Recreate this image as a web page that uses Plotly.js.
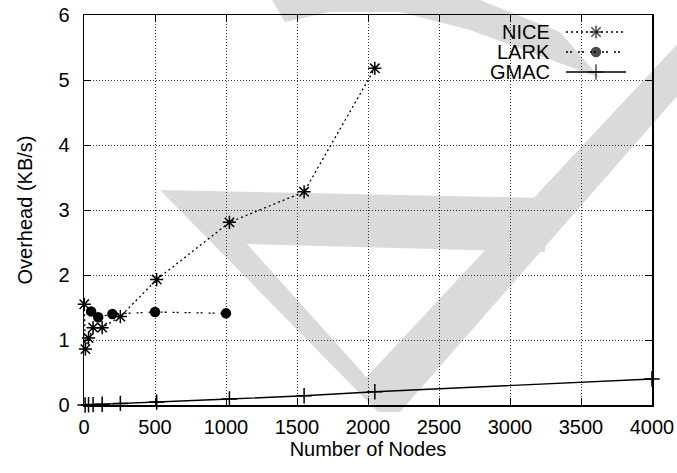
<!DOCTYPE html>
<html>
<head>
<meta charset="utf-8">
<script src="https://cdn.plot.ly/plotly-3.0.1.min.js"></script>
<style>html,body{margin:0;padding:0;background:#fff;}#chart{width:677px;height:473px;}</style>
</head>
<body>
<div id="chart"></div>
<script>
// ---- data ----
const seriesNames = ["NICE", "LARK", "GMAC"];
const niceX = [2, 10, 32, 64, 128, 256, 512, 1024, 1550, 2048];
const niceY = [1.55, 0.86, 1.03, 1.19, 1.19, 1.36, 1.93, 2.81, 3.28, 5.18];
const larkX = [50, 100, 200, 500, 1000];
const larkY = [1.44, 1.35, 1.40, 1.43, 1.41];
const gmacX = [8, 32, 64, 128, 256, 512, 1024, 1550, 2048, 4000];
const gmacY = [0.001, 0.003, 0.006, 0.012, 0.025, 0.045, 0.092, 0.143, 0.205, 0.40];
const xTicks = [0, 500, 1000, 1500, 2000, 2500, 3000, 3500, 4000];
const yTicks = [0, 1, 2, 3, 4, 5, 6];

// ---- layout geometry (pixels) ----
const W = 677, H = 473, ML = 84, MR = 25, MT = 15, MB = 68;
const PW = W - ML - MR, PH = H - MT - MB;
const fx = px => (px - ML) / PW;
const fy = py => (H - MB - py) / PH;
const pathOf = pts => 'M' + pts.map(p => fx(p[0]).toFixed(4) + ',' + fy(p[1]).toFixed(4)).join('L') + 'Z';

const FONT = "Liberation Sans, Arial, Helvetica, sans-serif";
const styles = {
  NICE: {dash: "2px,3px", symbol: "asterisk-open", size: 11},
  LARK: {dash: "2px,2px,2px,6px", symbol: "circle", size: 9},
  GMAC: {dash: "solid", symbol: "cross-thin-open", size: 11}
};
const seriesData = {NICE: [niceX, niceY], LARK: [larkX, larkY], GMAC: [gmacX, gmacY]};

const traces = seriesNames.map(n => ({
  type: "scatter", mode: "lines+markers", name: n,
  x: seriesData[n][0], y: seriesData[n][1],
  line: {color: "#000", width: n === "GMAC" ? 1.4 : 1.3, dash: styles[n].dash},
  marker: {color: "#000", symbol: styles[n].symbol, size: styles[n].size, line: {color: "#000", width: 1.5}},
  cliponaxis: false, showlegend: false
}));

// custom gnuplot-style legend (text left of sample)
const legRows = [32, 52, 72];
const legTextRight = 552, legL = 566, legR = 626;
traces.push({
  type: "scatter", mode: "markers", xaxis: "x2", yaxis: "y2",
  x: seriesNames.map(() => fx((legL + legR) / 2)),
  y: legRows.map(r => fy(r)),
  marker: {color: "#000", symbol: seriesNames.map(n => styles[n].symbol),
           size: seriesNames.map(n => styles[n].size), line: {color: "#000", width: 1.5}},
  cliponaxis: false, showlegend: false, hoverinfo: "skip"
});

const shapes = [];
// light grey watermark in the background
const wmColor = "#dadada";
const wmPolys = [
  [[160,190],[545,198],[545,252],[247,244]],            // cross bar
  [[160,190],[247,244],[362,372],[393,412],[378,412]],  // left leg
  [[362,382],[700,20],[700,70],[400,412],[380,412]],    // long right leg
  [[272,0],[285,22],[330,12],[400,12],[470,30],[600,78],[560,32],[480,0]] // top swoosh
];
wmPolys.forEach(p => shapes.push({type: "path", xref: "paper", yref: "paper", layer: "below",
  line: {width: 0}, fillcolor: wmColor, path: pathOf(p)}));

seriesNames.forEach((n, i) => {
  shapes.push({type: "line", xref: "paper", yref: "paper", x0: fx(legL), x1: fx(legR), y0: fy(legRows[i]), y1: fy(legRows[i]),
    line: {color: "#000", width: n === "GMAC" ? 1.4 : 1.3, dash: styles[n].dash}});
});
const annotations = seriesNames.map((n, i) => ({
  xref: "paper", yref: "paper", x: fx(legTextRight), y: fy(legRows[i]), xanchor: "right", yanchor: "middle",
  text: n, showarrow: false, font: {family: FONT, size: 20, color: "#000"}
}));

const axisCommon = {
  ticks: "inside", ticklen: 7, tickwidth: 1, tickcolor: "#000",
  showline: true, linewidth: 1.5, linecolor: "#000", mirror: "ticks",
  showgrid: true, gridcolor: "#333", gridwidth: 1, griddash: "1px,2px",
  zeroline: false, tickfont: {family: FONT, size: 20, color: "#000"}, automargin: false
};

const layout = {
  width: W, height: H, margin: {l: ML, r: MR, t: MT, b: MB, pad: 0},
  paper_bgcolor: "#fff", plot_bgcolor: "rgba(0,0,0,0)",
  font: {family: FONT, size: 20, color: "#000"},
  showlegend: false,
  xaxis: Object.assign({}, axisCommon, {range: [0, 4000], tickvals: xTicks, ticktext: xTicks.map(String),
    ticklabelstandoff: 3, title: {text: "Number of Nodes", standoff: 1, font: {family: FONT, size: 20, color: "#000"}}}),
  yaxis: Object.assign({}, axisCommon, {range: [0, 6], tickvals: yTicks, ticktext: yTicks.map(String),
    ticklabelstandoff: 9, title: {text: "Overhead (KB/s)", standoff: 20, font: {family: FONT, size: 20, color: "#000"}}}),
  xaxis2: {overlaying: "x", range: [0, 1], visible: false, fixedrange: true},
  yaxis2: {overlaying: "y", range: [0, 1], visible: false, fixedrange: true},
  shapes: shapes, annotations: annotations
};

Plotly.newPlot("chart", traces, layout, {staticPlot: true, displayModeBar: false});
</script>
</body>
</html>
